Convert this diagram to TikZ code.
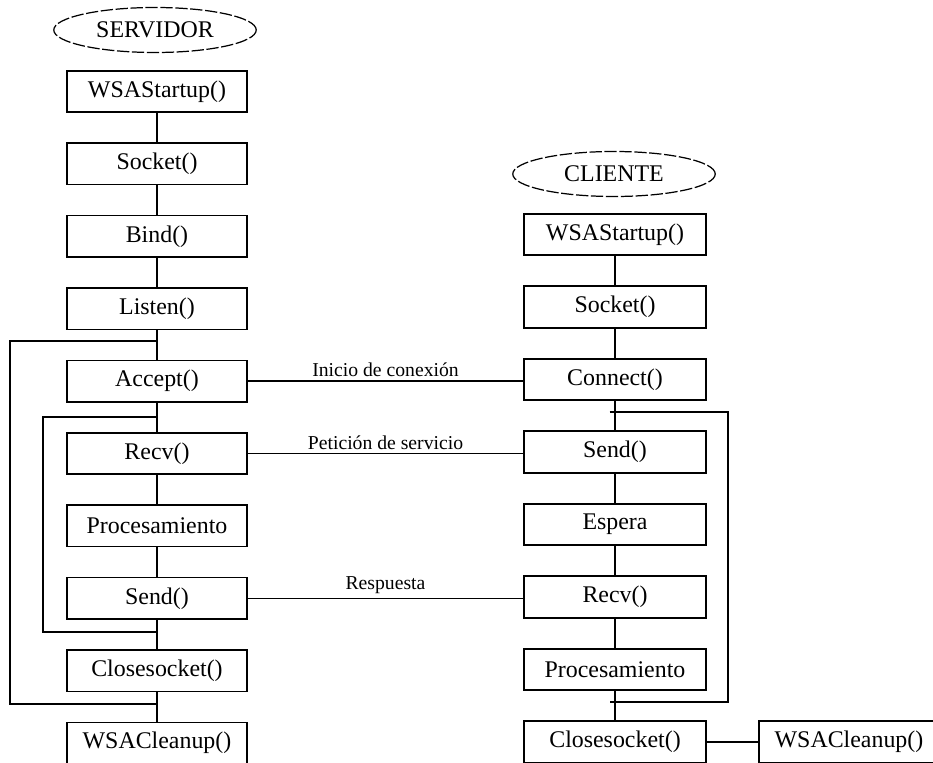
\documentclass[tikz,border=0pt]{standalone}
\usepackage{fontspec}
\setmainfont{Liberation Serif}
\usetikzlibrary{positioning, shapes.geometric, calc}

\begin{document}
\begin{tikzpicture}[x=0.02cm, y=-0.02cm, line width=0.9pt,
  box/.style={draw, rectangle, minimum width=3.6cm, minimum height=0.83cm, inner sep=0pt, font=\fontsize{13.6}{15}\selectfont},
  actor/.style={draw, ellipse, dash pattern=on 7pt off 1.5pt, line width=0.7pt, minimum width=4.05cm, minimum height=0.9cm, inner sep=0pt, font=\fontsize{13.6}{15}\selectfont},
  msg/.style={font=\fontsize{11.2}{13}\selectfont, above, inner sep=2pt}]
\useasboundingbox (0,0) rectangle (933,763);
\clip (0,0) rectangle (933,763);
% Servidor
\node[actor] (srv) at (155,30) {SERVIDOR};
\foreach \txt [count=\i] in {
  WSAStartup(), Socket(), Bind(), Listen(), Accept(),
  Recv(), Procesamiento, Send(), Closesocket(), WSACleanup()
} {
  \node[box] (srv\i) at (157,{91.5+72.4*(\i-1)}) {\txt};
}
\foreach \i [evaluate=\i as \j using int(\i+1)] in {1,...,9} {
  \draw (srv\i.south) -- (srv\j.north);
}
% Cliente
\node[actor] (cli) at (614,174) {CLIENTE};
\foreach \txt [count=\i] in {
  WSAStartup(), Socket(), Connect(), Send(), Espera,
  Recv(), Procesamiento, Closesocket()
} {
  \node[box, minimum width=3.64cm] (cli\i) at (615,{234.5+72.5*(\i-1)}) {\txt};
}
\foreach \i [evaluate=\i as \j using int(\i+1)] in {1,...,7} {
  \draw (cli\i.south) -- (cli\j.north);
}
\node[box] (cliEnd) at (849,742) {WSACleanup()};
\draw (cli8.east) -- (cliEnd.west);
% Bucles
\coordinate (outerIn) at (srv4.south |- 0,341);
\coordinate (outerOut) at (srv9.south |- 0,704);
\draw (outerIn) -- (10,341) -- (10,704) -- (outerOut);
\coordinate (innerIn) at (srv5.south |- 0,417);
\coordinate (innerOut) at (srv8.south |- 0,632);
\draw (innerIn) -- (43,417) -- (43,632) -- (innerOut);
\coordinate (cliIn) at (cli3.south |- 0,412);
\coordinate (cliOut) at (cli7.south |- 0,702);
\draw ([xshift=-3]cliIn) -- (728,412) -- (728,702) -- ([xshift=-3]cliOut);
% Mensajes
\draw (srv5.east) -- node[msg] {Inicio de conexión} (srv5.east -| cli3.west);
\draw (srv6.east) -- node[msg] {Petición de servicio} (srv6.east -| cli4.west);
\draw (srv8.east) -- node[msg] {Respuesta} (srv8.east -| cli6.west);
\end{tikzpicture}
\end{document}
